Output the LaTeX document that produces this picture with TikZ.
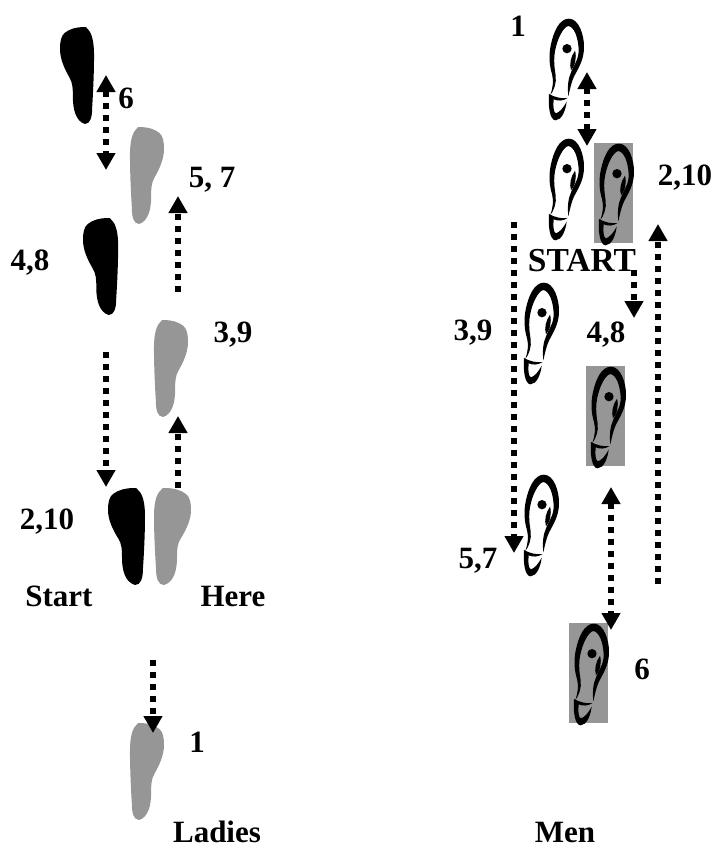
\documentclass[tikz,border=0pt]{standalone}
\usepackage{fontspec}
\setmainfont{Liberation Serif}
\usetikzlibrary{arrows.meta}
\definecolor{stepgrey}{RGB}{150,150,150}
\tikzset{
  lbl/.style={font=\fontsize{31}{31}\selectfont\bfseries,inner sep=0pt,text=black},
  dotline/.style={line width=6pt,dash pattern=on 6pt off 6pt,draw=black},
  one/.style={dotline,-{Triangle[width=18pt,length=17pt]}},
  both/.style={dotline,{Triangle[width=18pt,length=17pt]}-{Triangle[width=18pt,length=17pt]}},
  sole/.pic={
    \fill[pic actions] (26,0) .. controls (18,0) and (10,2) .. (5,6)
      .. controls (1,9) and (0,15) .. (0,22)
      .. controls (0,32) and (5,42) .. (10,50)
      .. controls (14,56) and (14,62) .. (14,70)
      .. controls (14,82) and (17,94) .. (27,97)
      .. controls (33,97) and (35,90) .. (35,80)
      .. controls (36,65) and (37,45) .. (37,28)
      .. controls (37,16) and (35,6) .. (30,2)
      .. controls (29,0) and (28,0) .. (26,0) -- cycle;
  },
  shoe/.pic={
    \begin{scope}[scale=0.3333]
    \fill (4,228) .. controls (12,205) and (14,185) .. (9,165)
      .. controls (1,140) and (-1,110) .. (5,80)
      .. controls (13,40) and (30,-1) .. (60,-1)
      .. controls (90,-1) and (106,50) .. (105,85)
      .. controls (105,125) and (86,150) .. (74,175)
      .. controls (67,190) and (63,210) .. (58,232)
      .. controls (55,205) and (57,180) .. (66,160)
      .. controls (76,135) and (90,120) .. (89,90)
      .. controls (87,55) and (76,24) .. (58,21)
      .. controls (42,24) and (24,62) .. (18,97)
      .. controls (13,125) and (17,150) .. (20,170)
      .. controls (23,190) and (15,215) .. (4,228) -- cycle;
    \fill (0,225) .. controls (15,234) and (38,240) .. (56,237)
      .. controls (42,246) and (27,247) .. (14,241)
      .. controls (12,262) and (13,280) .. (21,283)
      .. controls (32,280) and (44,265) .. (53,248)
      .. controls (50,275) and (38,303) .. (20,304)
      .. controls (2,304) and (-3,260) .. (0,225) -- cycle;
    \fill (54,89) circle (14);
    \fill (78,95) .. controls (84,115) and (78,142) .. (66,154)
      .. controls (60,135) and (66,112) .. (78,95) -- cycle;
    \end{scope}
  }
}
\begin{document}
\begin{tikzpicture}[x=1pt,y=-1pt]
\useasboundingbox (0,0) rectangle (716,846);
% ladies feet
\pic[black,xscale=0.92] at (60,27) {sole};
\pic[stepgrey,xscale=-0.92] at (164,127) {sole};
\pic[black,xscale=0.95] at (83,218) {sole};
\pic[stepgrey,xscale=-0.92] at (188,320) {sole};
\pic[black] at (108,488) {sole};
\pic[stepgrey,xscale=-1] at (191,488) {sole};
\pic[stepgrey,xscale=-0.92] at (164,723) {sole};
% men shoes
\fill[stepgrey] (594,143) rectangle (633,243);
\fill[stepgrey] (586,366) rectangle (625,466);
\fill[stepgrey] (569,623) rectangle (608,723);
\pic at (549,19) {shoe};
\pic at (549,139) {shoe};
\pic at (599,144) {shoe};
\pic at (524,283) {shoe};
\pic at (591,367) {shoe};
\pic at (524,475) {shoe};
\pic at (574,624) {shoe};
% labels
\node[lbl] (a6) at (126,98) {6};
\node[lbl] (a57) at (212,180) {5, 7};
\node[lbl] (a48) at (30,263) {4,8};
\node[lbl] (a39) at (233,335) {3,9};
\node[lbl] (a210) at (47,522) {2,10};
\node[lbl] (astart) at (59,596) {Start};
\node[lbl] (ahere) at (233,596) {Here};
\node[lbl] (a1) at (197,742) {1};
\node[lbl] (aladies) at (217,832) {Ladies};
\node[lbl] (bmen) at (565,832) {Men};
\node[lbl] (b1) at (518,26) {1};
\node[lbl] (b210) at (685,178) {2,10};
\node[lbl,font=\fontsize{33.5}{33.5}\selectfont\bfseries] (bstart) at (582,261) {START};
\node[lbl] (b39) at (473,333) {3,9};
\node[lbl] (b48) at (606,335) {4,8};
\node[lbl] (b57) at (478,561) {5,7};
\node[lbl] (b6) at (642,669) {6};
% arrow end points
\coordinate (p1a) at (106,75);  \coordinate (p1b) at (106,170);
\coordinate (p2a) at (178,292); \coordinate (p2b) at (178,196);
\coordinate (p3a) at (106,352); \coordinate (p3b) at (106,487);
\coordinate (p4a) at (178,488); \coordinate (p4b) at (178,416);
\coordinate (p5a) at (153,660); \coordinate (p5b) at (153,733);
\coordinate (q1a) at (587,72);  \coordinate (q1b) at (587,146);
\coordinate (q2a) at (514,222); \coordinate (q2b) at (514,553);
\coordinate (q3a) at (634,270); \coordinate (q3b) at (634,318);
\coordinate (q4a) at (658,584); \coordinate (q4b) at (658,224);
\coordinate (q5a) at (611,487); \coordinate (q5b) at (611,630);
\draw[both] (p1a) -- (p1b);
\draw[one] (p2a) -- (p2b);
\draw[one] (p3a) -- (p3b);
\draw[one] (p4a) -- (p4b);
\draw[one] (p5a) -- (p5b);
\draw[both] (q1a) -- (q1b);
\draw[one] (q2a) -- (q2b);
\draw[one] (q3a) -- (q3b);
\draw[one] (q4a) -- (q4b);
\draw[both] (q5a) -- (q5b);
\end{tikzpicture}
\end{document}
